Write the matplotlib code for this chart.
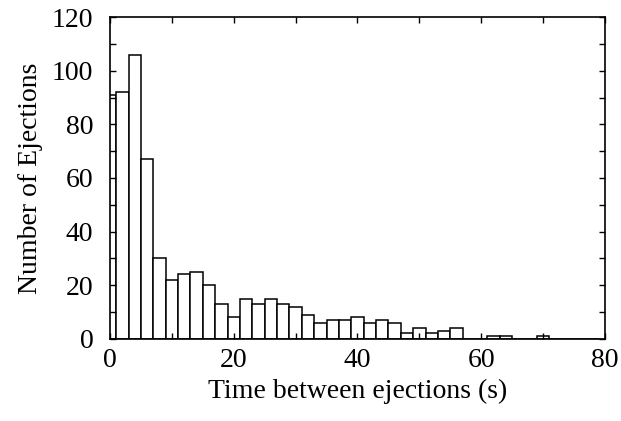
import matplotlib
matplotlib.use("Agg")
import matplotlib.pyplot as plt
from matplotlib.ticker import MultipleLocator

# Bin centres (s), bins are 2 s wide; the first bin is clipped at 0
bin_centers = list(range(0, 80, 2))
counts = [91, 92, 106, 67, 30, 22, 24, 25, 20, 13,
          8, 15, 13, 15, 13, 12, 9, 6, 7, 7,
          8, 6, 7, 6, 2, 4, 2, 3, 4, 0,
          0, 1, 1, 0, 0, 1, 0, 0, 0, 0]
x_ticks = [0, 20, 40, 60, 80]
y_ticks = [0, 20, 40, 60, 80, 100, 120]

plt.rcParams['font.family'] = ['Liberation Serif', 'DejaVu Serif']
plt.rcParams['font.size'] = 20

fig = plt.figure(figsize=(6.21, 4.21), dpi=100)
ax = fig.add_axes([0.1771, 0.1955, 0.9742 - 0.1771, 0.9589 - 0.1955])

ax.bar(bin_centers, counts, width=2, align='center', facecolor='white',
       edgecolor='black', linewidth=1.1)

ax.set_xlim(0, 80)
ax.set_ylim(0, 120)
ax.set_xticks(x_ticks)
ax.set_yticks(y_ticks)
ax.xaxis.set_minor_locator(MultipleLocator(10))
ax.yaxis.set_minor_locator(MultipleLocator(10))
ax.tick_params(which='both', direction='in', top=True, right=True,
               length=4, width=1.0)
ax.tick_params(axis='y', which='major', pad=12)
ax.tick_params(axis='x', which='major', pad=7)
for s in ax.spines.values():
    s.set_linewidth(1.2)

ax.set_xlabel('Time between ejections (s)', labelpad=4)
ax.set_ylabel('Number of Ejections', labelpad=6)

fig.savefig('out.png', dpi=100)
